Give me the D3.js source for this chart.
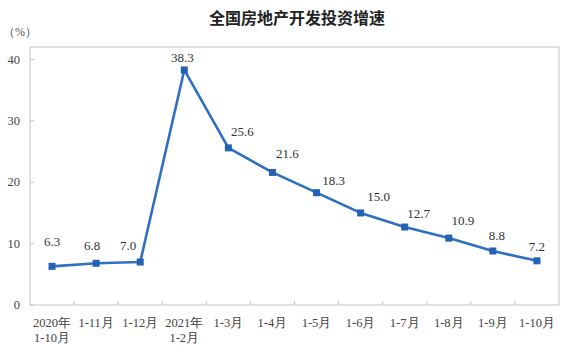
<!DOCTYPE html>
<html lang="zh">
<head>
<meta charset="UTF-8">
<title>全国房地产开发投资增速</title>
<script src="https://cdnjs.cloudflare.com/ajax/libs/d3/7.8.5/d3.min.js"></script>
<style>
  body { margin: 0; background: #fff; }
  .tick-label { font: 12.5px "Liberation Serif", serif; fill: #444; }
  .val { font: 13px "Liberation Serif", serif; fill: #333; }
</style>
</head>
<body>
<svg width="580" height="364"></svg>
<script>
// categories (two-line labels) and growth values
const months = [["2020年", "1-10月"], ["1-11月"], ["1-12月"], ["2021年", "1-2月"], ["1-3月"], ["1-4月"],
                ["1-5月"], ["1-6月"], ["1-7月"], ["1-8月"], ["1-9月"], ["1-10月"]];
const growth = [6.3, 6.8, 7.0, 38.3, 25.6, 21.6, 18.3, 15.0, 12.7, 10.9, 8.8, 7.2];
const yTicks = [0, 10, 20, 30, 40];

// label nudges (px) so the numbers sit clear of the line
const labelDx = [0, -4, -12, -2, 14, 15, 17, 18, 14, 14, 4, 0];
const labelDy = [-20, -13, -12, -8, -12, -14, -8, -12, -9, -13, -11, -10];

const svg = d3.select("svg");
const plotLeft = 30, plotRight = 559, plotTop = 47, plotBottom = 305;

const x = d3.scaleBand().domain(d3.range(months.length)).range([plotLeft, plotRight]);
const y = d3.scaleLinear().domain([0, 40]).range([plotBottom, 59.5]);

// title
svg.append("text").attr("x", 297).attr("y", 24).attr("text-anchor", "middle")
  .style("font", "bold 16px 'Noto Sans CJK SC', sans-serif").style("fill", "#222")
  .text("全国房地产开发投资增速");
svg.append("text").attr("x", 3).attr("y", 36)
  .style("font", "12px 'Liberation Serif', serif").style("fill", "#555")
  .text("（%）");

// frame
svg.append("rect").attr("x", plotLeft).attr("y", plotTop)
  .attr("width", plotRight - plotLeft).attr("height", plotBottom - plotTop)
  .attr("fill", "none").attr("stroke", "#c4c4c4").attr("stroke-width", 1);

// y ticks
svg.selectAll(".yt").data(yTicks).enter().append("line")
  .attr("x1", plotLeft).attr("x2", plotLeft + 4).attr("y1", d => y(d)).attr("y2", d => y(d))
  .attr("stroke", "#c4c4c4");
svg.selectAll(".yl").data(yTicks).enter().append("text")
  .attr("class", "tick-label").attr("x", 20).attr("y", d => y(d) + 4)
  .attr("text-anchor", "end").text(d => d);

// x ticks between categories
svg.selectAll(".xt").data(d3.range(1, months.length)).enter().append("line")
  .attr("x1", d => x(d)).attr("x2", d => x(d)).attr("y1", plotBottom).attr("y2", plotBottom - 4)
  .attr("stroke", "#c4c4c4");

// x labels
const xl = svg.selectAll(".xl").data(months).enter().append("text")
  .attr("class", "tick-label").attr("text-anchor", "middle")
  .attr("x", (d, i) => x(i) + x.bandwidth() / 2).attr("y", 327);
xl.selectAll("tspan").data(d => d).enter().append("tspan")
  .attr("x", function () { return d3.select(this.parentNode).attr("x"); })
  .attr("dy", (d, i) => i === 0 ? 0 : 15).text(d => d);

// line
const cx = i => x(i) + x.bandwidth() / 2;
svg.append("path").datum(growth)
  .attr("fill", "none").attr("stroke", "#2e6fc3").attr("stroke-width", 2.6)
  .attr("stroke-linejoin", "round")
  .attr("d", d3.line().x((d, i) => cx(i)).y(d => y(d)));

svg.selectAll(".pt").data(growth).enter().append("rect")
  .attr("x", (d, i) => cx(i) - 3.5).attr("y", d => y(d) - 3.5)
  .attr("width", 7).attr("height", 7).attr("fill", "#2561b5");

svg.selectAll(".val").data(growth).enter().append("text")
  .attr("class", "val").attr("text-anchor", "middle")
  .attr("x", (d, i) => cx(i) + labelDx[i]).attr("y", (d, i) => y(d) + labelDy[i])
  .text(d => d.toFixed(1));
</script>
</body>
</html>
